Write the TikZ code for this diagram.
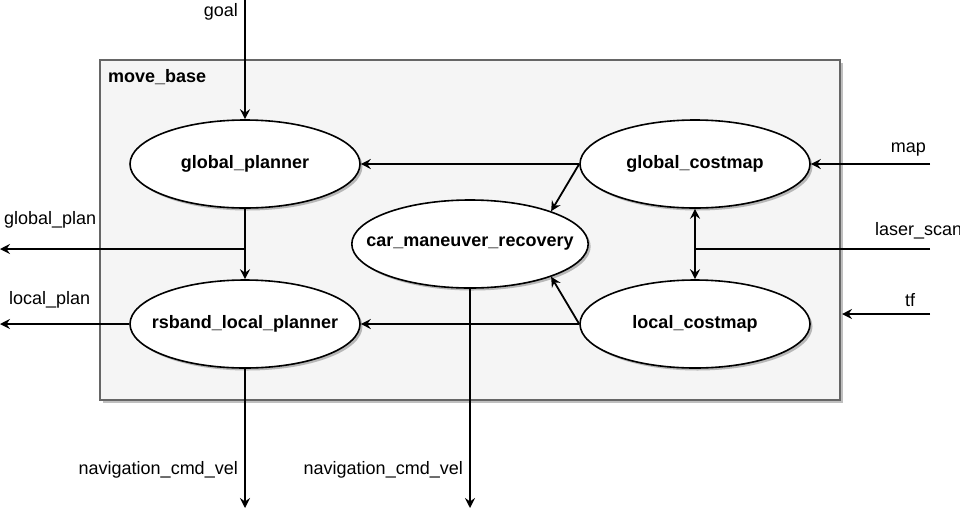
\documentclass[tikz,border=0pt]{standalone}
\usepackage{fontspec}
\setmainfont{Liberation Sans}
\usetikzlibrary{shapes.geometric,arrows.meta,shadows}

\begin{document}
\begin{tikzpicture}[x = 1pt, y = -1pt, font = \fontsize{18}{21}\selectfont,
  proc/.style = {ellipse, draw, fill = white, line width = 1.6pt, minimum width = 230pt, minimum height = 88pt, inner xsep = -20pt, inner ysep = 0pt, font = \fontsize{18}{21}\selectfont\bfseries, drop shadow = {shadow xshift = 2.5pt, shadow yshift = -2.5pt, fill = black, opacity = .25}},
  flow/.style = {line width = 1.8pt, -{Stealth[length = 10pt, width = 10pt, inset = 3.5pt]}},
  wire/.style = {line width = 1.8pt},
  lbl/.style = {inner sep = 0pt}]
\useasboundingbox (0,0) rectangle (960,509);
\node[draw = black!60, fill = black!4, line width = 1.6pt, minimum width = 740pt, minimum height = 340pt, inner sep = 0pt, drop shadow = {shadow xshift = 2.5pt, shadow yshift = -2.5pt, fill = black, opacity = .25}] (base) at (470,230) {};
\node[lbl, anchor = west, font = \fontsize{18}{21}\selectfont\bfseries] (basename) at (108,77) {move\_base};
\node[proc] (gp) at (245,164) {global\_planner};
\node[proc] (lp) at (245,324) {rsband\_local\_planner};
\node[proc] (cmr) at (470,244) {car\_maneuver\_recovery};
\node[proc] (gc) at (695,164) {global\_costmap};
\node[proc] (lc) at (695,324) {local\_costmap};
\coordinate (goalin) at (245,0);
\coordinate (gplanout) at (0,249);
\coordinate (lplanout) at (0,324);
\coordinate (navA) at (245,508);
\coordinate (navB) at (470,508);
\coordinate (mapin) at (930,164);
\coordinate (scanin) at (930,249);
\coordinate (scanjoin) at (695,249);
\coordinate (tfin) at (930,314);
\coordinate (tfend) at (842,314);
\draw[flow] (goalin) -- (gp);
\draw[flow] (gp) -- (lp);
\draw[flow] (gp.south |- gplanout) -- (gplanout);
\draw[flow] (lp) -- (lplanout);
\draw[flow] (lp) -- (navA);
\draw[flow] (cmr) -- (navB);
\draw[flow] (gc) -- (gp);
\draw[flow] (lc) -- (lp);
\draw[flow] (gc.west) -- (cmr.22);
\draw[flow] (lc.west) -- (cmr.-22);
\draw[flow] (mapin) -- (gc);
\draw[wire] (scanin) -- (scanjoin);
\draw[flow] (scanjoin) -- (gc);
\draw[flow] (scanjoin) -- (lc);
\draw[flow] (tfin) -- (tfend);
\node[lbl, anchor = east] (goal) at (238,12) {goal};
\node[lbl, anchor = west] (gplan) at (4,220) {global\_plan};
\node[lbl, anchor = west] (lplan) at (9,300) {local\_plan};
\node[lbl, anchor = east] (cmdA) at (238,470) {navigation\_cmd\_vel};
\node[lbl, anchor = east] (cmdB) at (463,470) {navigation\_cmd\_vel};
\node[lbl, anchor = east] (map) at (926,150) {map};
\node[lbl, anchor = west] (scan) at (875,231) {laser\_scan};
\node[lbl] (tf) at (910,300) {tf};
\end{tikzpicture}
\end{document}
